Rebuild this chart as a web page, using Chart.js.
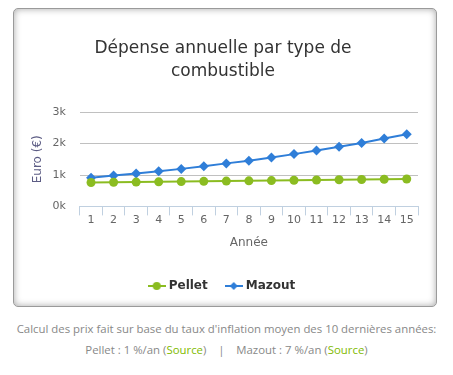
<!DOCTYPE html>
<html>
<head>
<meta charset="utf-8">
<script src="https://cdn.jsdelivr.net/npm/chart.js@4/dist/chart.umd.min.js"></script>
<style>
  body { margin: 0; background: #fff; font-family: "Open Sans", sans-serif; }
  #box {
    position: absolute; left: 13px; top: 8px; width: 422px; height: 297px;
    border: 1px solid #9a9a9a; border-radius: 5px;
    box-shadow: inset 0 0 7px rgba(0,0,0,0.35);
    background: #fff;
  }
  #wrap { position: absolute; left: 0; top: 0; width: 422px; height: 297px; }
  #note {
    position: absolute; left: 0; top: 318px; width: 453px; text-align: center;
    font-size: 11.4px; line-height: 21px; color: #888;
  }
  #note span { color: #7fba00; }
</style>
</head>
<body>
<div id="box"><div id="wrap"><canvas id="chart"></canvas></div></div>
<div id="note">
  Calcul des prix fait sur base du taux d'inflation moyen des 10 dernières années:<br>
  Pellet : 1 %/an (<span>Source</span>) &nbsp;&nbsp; | &nbsp;&nbsp; Mazout : 7 %/an (<span>Source</span>)
</div>
<script>
// Data
const years = ["1", "2", "3", "4", "5", "6", "7", "8", "9", "10", "11", "12", "13", "14", "15"];
const pellet = [760, 768, 775, 783, 791, 799, 807, 815, 823, 831, 840, 848, 856, 865, 873];
const mazout = [915, 985, 1050, 1120, 1195, 1280, 1370, 1455, 1555, 1665, 1780, 1900, 2020, 2165, 2300];
const yTicks = ["0k", "1k", "2k", "3k"];

const green = "#8bbc21";
const blue = "#2f7ed8";

// legend symbol: short line with marker
function legendIcon(color, shape) {
  const c = document.createElement("canvas");
  c.width = 18; c.height = 10;
  const ctx = c.getContext("2d");
  ctx.strokeStyle = color; ctx.fillStyle = color; ctx.lineWidth = 2;
  ctx.beginPath(); ctx.moveTo(0, 5); ctx.lineTo(18, 5); ctx.stroke();
  ctx.beginPath();
  if (shape === "circle") {
    ctx.arc(9, 5, 4, 0, Math.PI * 2);
  } else {
    ctx.moveTo(9, 1); ctx.lineTo(13, 5); ctx.lineTo(9, 9); ctx.lineTo(5, 5); ctx.closePath();
  }
  ctx.fill();
  return c;
}

new Chart(document.getElementById("chart"), {
  type: "line",
  data: {
    labels: years,
    datasets: [
      {
        label: "Pellet",
        data: pellet,
        borderColor: green,
        backgroundColor: green,
        borderWidth: 2,
        pointStyle: "circle",
        pointRadius: 4.5,
        pointBorderWidth: 0,
        tension: 0,
      },
      {
        label: "Mazout",
        data: mazout,
        borderColor: blue,
        backgroundColor: blue,
        borderWidth: 2,
        pointStyle: "rectRot",
        pointRadius: 5,
        pointBorderWidth: 0,
        tension: 0,
      },
    ],
  },
  options: {
    responsive: true,
    maintainAspectRatio: false,
    animation: false,
    layout: { padding: { left: 14, right: 18, top: 0, bottom: 4 } },
    plugins: {
      title: {
        display: true,
        text: ["Dépense annuelle par type de", "combustible"],
        color: "#333",
        font: { family: "DejaVu Sans", size: 17, weight: "normal", lineHeight: 1.3 },
        padding: { top: 29, bottom: 30 },
      },
      legend: {
        position: "bottom",
        labels: {
          usePointStyle: true,
          color: "#333",
          font: { family: "DejaVu Sans", size: 12, weight: "bold" },
          padding: 20,
          generateLabels: function (chart) {
            const icons = [legendIcon(green, "circle"), legendIcon(blue, "diamond")];
            return chart.data.datasets.map(function (ds, i) {
              return {
                text: ds.label,
                pointStyle: icons[i],
                fillStyle: ds.borderColor,
                strokeStyle: ds.borderColor,
                lineWidth: 0,
                hidden: false,
                datasetIndex: i,
                fontColor: "#333",
              };
            });
          },
        },
      },
      tooltip: { enabled: false },
    },
    scales: {
      x: {
        offset: true,
        grid: {
          offset: true,
          drawOnChartArea: false,
          color: "#c0d0e0",
          tickLength: 9,
        },
        border: { color: "#c0d0e0" },
        ticks: {
          color: "#666",
          font: { family: "DejaVu Sans", size: 11 },
          padding: -2,
          maxRotation: 0,
        },
        title: {
          display: true,
          text: "Année",
          color: "#666",
          font: { family: "DejaVu Sans", size: 12 },
          padding: { top: 11, bottom: 10 },
        },
      },
      y: {
        min: 0,
        max: 3000,
        grid: { color: "#c0c0c0", drawTicks: false },
        border: { display: false },
        ticks: {
          stepSize: 1000,
          color: "#666",
          font: { family: "DejaVu Sans", size: 11 },
          padding: 14,
          callback: function (value) {
            return yTicks[value / 1000];
          },
        },
        title: {
          display: true,
          text: "Euro (€)",
          color: "#5c5c84",
          font: { family: "DejaVu Sans", size: 12 },
          padding: { top: 3, bottom: -7 },
        },
      },
    },
  },
});
</script>
</body>
</html>
